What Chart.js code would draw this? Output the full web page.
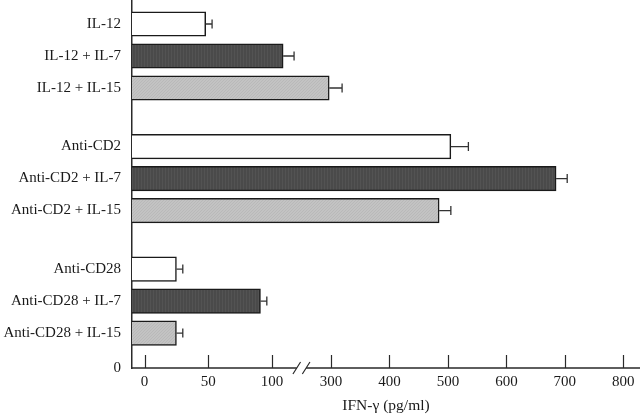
<!DOCTYPE html>
<html>
<head>
<meta charset="utf-8">
<script src="https://cdn.jsdelivr.net/npm/chart.js@4/dist/chart.umd.min.js"></script>
<style>
html,body{margin:0;padding:0;background:#ffffff;}
#wrap{width:640px;height:415px;position:relative;}
</style>
</head>
<body>
<div id="wrap"><canvas id="c"></canvas></div>
<script>
// ---- data ----
const labels = ['IL-12', 'IL-12 + IL-7', 'IL-12 + IL-15',
                'Anti-CD2', 'Anti-CD2 + IL-7', 'Anti-CD2 + IL-15',
                'Anti-CD28', 'Anti-CD28 + IL-7', 'Anti-CD28 + IL-15'];
const values = [48, 138, 294, 505, 685, 485, 25, 91, 25];
const errors = [5, 37, 25, 30, 19, 20, 5, 5, 5];
const xTicks = [0, 50, 100, 300, 400, 500, 600, 700, 800];
const yOriginLabel = '0';
const xTitle = 'IFN-\u03b3 (pg/ml)';
const breakFrom = 100;
const breakTo = 300;

// ---- layout helpers (not data) ----
const groupSize = 3;
const groupPitch = 3.83;
const yPos = labels.map((_, i) => Math.floor(i / groupSize) * groupPitch + (i % groupSize));
const yMin = -0.75, yMax = 10.75;
const xMin = -9.9, xMax = 828.5;
const segWeights = [140, 59.1, 309.2];

// ---- broken linear scale ----
class BrokenScale extends Chart.LinearScale {
  _segs() {
    return [
      {from: this.min, to: breakFrom, w: segWeights[0]},
      {from: breakFrom, to: breakTo, w: segWeights[1]},
      {from: breakTo, to: this.max, w: segWeights[2]}
    ];
  }
  getPixelForValue(value) {
    if (value === null || value === undefined || isNaN(value)) return NaN;
    const segs = this._segs();
    const total = segs.reduce((a, s) => a + s.w, 0);
    let acc = 0;
    for (let k = 0; k < segs.length; k++) {
      const s = segs[k];
      if (value <= s.to || k === segs.length - 1) {
        acc += (value - s.from) / (s.to - s.from) * s.w;
        break;
      }
      acc += s.w;
    }
    return this.getPixelForDecimal(acc / total);
  }
  getValueForPixel(pixel) {
    const segs = this._segs();
    const total = segs.reduce((a, s) => a + s.w, 0);
    let d = this.getDecimalForPixel(pixel) * total;
    for (let k = 0; k < segs.length; k++) {
      const s = segs[k];
      if (d <= s.w || k === segs.length - 1) return s.from + d / s.w * (s.to - s.from);
      d -= s.w;
    }
  }
}
BrokenScale.id = 'broken';
BrokenScale.defaults = Chart.LinearScale.defaults;
Chart.register(BrokenScale);

// ---- fills ----
function pattern(base, alt, kind) {
  const p = document.createElement('canvas');
  p.width = 3; p.height = 3;
  const g = p.getContext('2d');
  g.fillStyle = base; g.fillRect(0, 0, 3, 3);
  g.fillStyle = alt;
  if (kind === 'stripe') { g.fillRect(0, 0, 1, 3); }
  else { g.fillRect(0, 0, 1, 1); g.fillRect(2, 1, 1, 1); g.fillRect(1, 2, 1, 1); }
  return document.getElementById('c').getContext('2d').createPattern(p, 'repeat');
}
const fills = ['#ffffff', pattern('#4a4a4a', '#535353', 'stripe'), pattern('#c3c3c3', '#b9b9b9', 'dot')];

const serif = "'Liberation Serif', 'Times New Roman', serif";
const ink = '#1a1a1a';
const axisColor = '#2a2a2a';

const overlay = {
  id: 'overlay',
  afterDatasetsDraw(chart) {
    const ctx = chart.ctx;
    const xs = chart.scales.x;
    const area = chart.chartArea;
    const meta = chart.getDatasetMeta(0);
    ctx.save();
    // error bars
    ctx.strokeStyle = '#333333';
    ctx.lineWidth = 1.3;
    meta.data.forEach((bar, i) => {
      const xe = xs.getPixelForValue(values[i] + errors[i]);
      ctx.beginPath();
      ctx.moveTo(bar.x, bar.y);
      ctx.lineTo(xe, bar.y);
      ctx.moveTo(xe, bar.y - 4.5);
      ctx.lineTo(xe, bar.y + 4.5);
      ctx.stroke();
    });
    // x axis with break
    const yb = area.bottom;
    const cx = xs.getPixelForValue((breakFrom + breakTo) / 2);
    const s1 = cx - 4.7, s2 = cx + 4.7;
    ctx.strokeStyle = axisColor;
    ctx.lineWidth = 1.5;
    ctx.beginPath();
    ctx.moveTo(area.left, yb); ctx.lineTo(s1, yb);
    ctx.moveTo(s2, yb); ctx.lineTo(area.right, yb);
    ctx.stroke();
    ctx.lineWidth = 1.2;
    ctx.beginPath();
    [s1, s2].forEach(sx => {
      ctx.moveTo(sx - 3.8, yb + 6);
      ctx.lineTo(sx + 3.8, yb - 6);
    });
    ctx.stroke();
    // ticks pointing up
    ctx.lineWidth = 1.2;
    ctx.beginPath();
    xTicks.forEach(v => {
      const px = Math.round(xs.getPixelForValue(v)) + 0.5;
      ctx.moveTo(px, yb);
      ctx.lineTo(px, yb - 13);
    });
    ctx.stroke();
    ctx.restore();
  }
};

new Chart(document.getElementById('c'), {
  type: 'bar',
  data: {
    datasets: [{
      data: values.map((v, i) => ({x: v, y: yPos[i]})),
      base: xMin,
      backgroundColor: labels.map((_, i) => fills[i % groupSize]),
      borderColor: ink,
      borderWidth: 1.5,
      barThickness: 24.5
    }]
  },
  options: {
    indexAxis: 'y',
    responsive: true,
    maintainAspectRatio: false,
    animation: false,
    layout: {padding: 0},
    plugins: {legend: {display: false}, tooltip: {enabled: false}, title: {display: false}},
    scales: {
      x: {
        type: 'broken',
        min: xMin,
        max: xMax,
        offset: false,
        grid: {display: false, drawTicks: false},
        border: {display: false},
        afterBuildTicks: s => { s.ticks = xTicks.map(v => ({value: v})); },
        afterFit: s => { s.height = 47; s.paddingLeft = 0; s.paddingRight = 0; },
        ticks: {
          autoSkip: false, maxRotation: 0, padding: 5, color: ink,
          font: {family: serif, size: 15},
          callback: v => String(v)
        },
        title: {
          display: true, text: xTitle, color: ink,
          font: {family: serif, size: 15.5},
          padding: {top: 0, bottom: 0}
        }
      },
      y: {
        type: 'linear',
        reverse: true,
        min: yMin,
        max: yMax,
        offset: false,
        grid: {display: false, drawTicks: false},
        border: {display: true, color: axisColor, width: 1.5},
        afterBuildTicks: s => { s.ticks = yPos.map(v => ({value: v})).concat([{value: yMax}]); },
        afterFit: s => { s.width = 132; s.paddingTop = 0; s.paddingBottom = 0; },
        ticks: {
          autoSkip: false, padding: 11, color: ink,
          font: {family: serif, size: 15},
          callback: (v, i) => (i < labels.length ? labels[i] : yOriginLabel)
        }
      }
    }
  },
  plugins: [overlay]
});
</script>
</body>
</html>
